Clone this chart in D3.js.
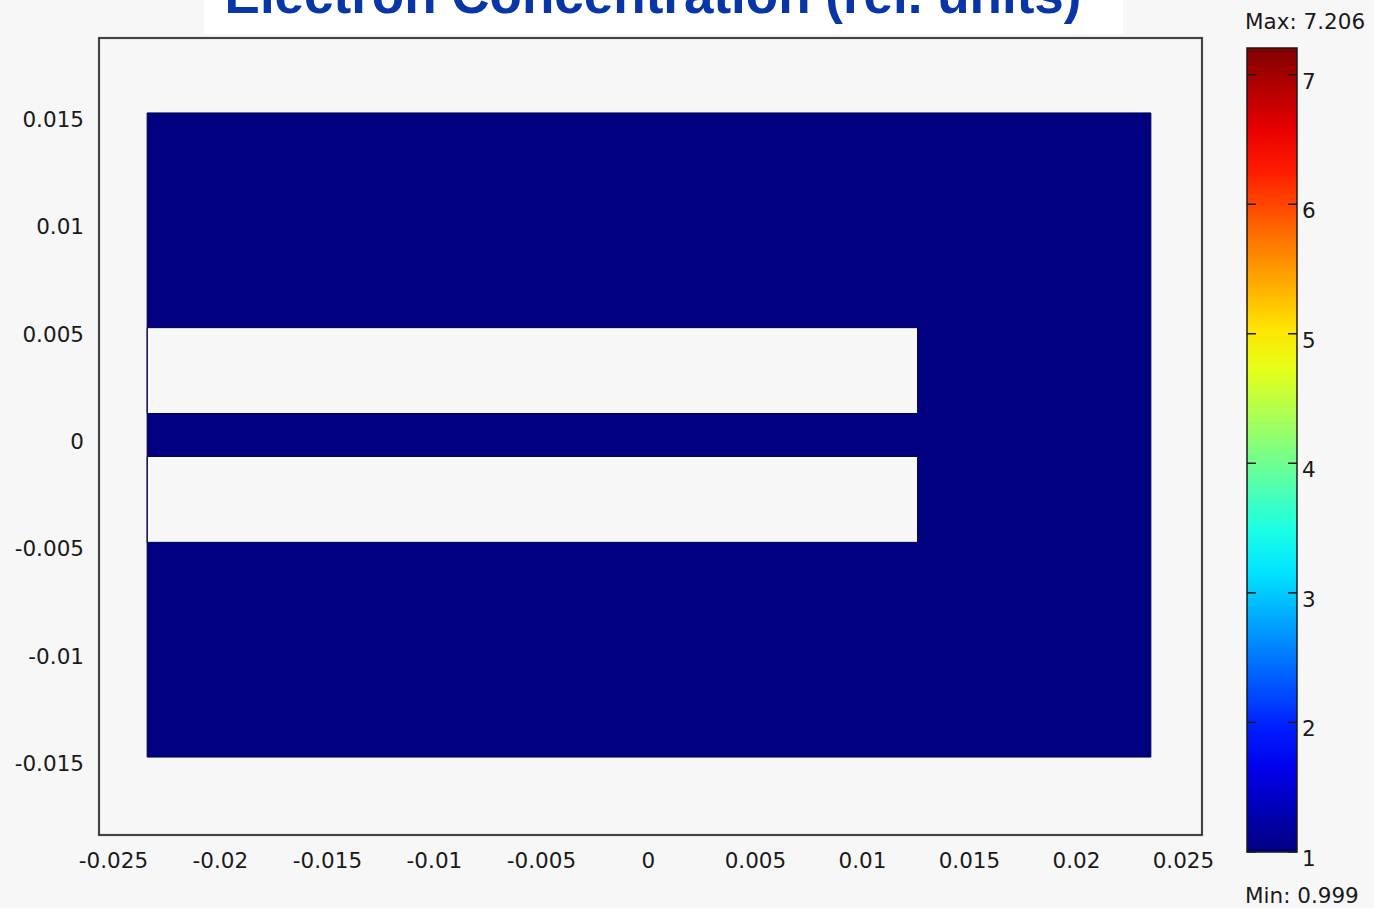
<!DOCTYPE html>
<html>
<head>
<meta charset="utf-8">
<script src="https://cdn.jsdelivr.net/npm/d3@7"></script>
<style>
  html, body { margin: 0; padding: 0; background: #f7f7f7; }
  svg { display: block; }
  text { font-family: "DejaVu Sans", Verdana, sans-serif; fill: #1a1a1a; }
</style>
</head>
<body>
<svg id="chart" width="1374" height="908"></svg>
<script>
// Axis ticks (metres) and colour bar ticks (relative units)
const xTicks = [-0.025, -0.02, -0.015, -0.01, -0.005, 0, 0.005, 0.01, 0.015, 0.02, 0.025];
const yTicks = [-0.015, -0.01, -0.005, 0, 0.005, 0.01, 0.015];
const xTickLabels = ["-0.025", "-0.02", "-0.015", "-0.01", "-0.005", "0", "0.005", "0.01", "0.015", "0.02", "0.025"];
const yTickLabels = ["-0.015", "-0.01", "-0.005", "0", "0.005", "0.01", "0.015"];
const cbTicks = [1, 2, 3, 4, 5, 6, 7];

// Plot window extents
const xExtent = [-0.02565, 0.02589];
const yExtent = [-0.01863, 0.01849];

// Computational domain: outer block with two slots cut from the left edge
const blockX = [-0.0234, 0.0235];
const blockY = [-0.015, 0.015];
const slots = [
  { x0: -0.0234, x1: 0.0126, y0: 0.001, y1: 0.005 },
  { x0: -0.0234, x1: 0.0126, y0: -0.005, y1: -0.001 }
];

// Electron concentration on the domain (uniform value) and colour range
const fieldValue = 1.0;
const fieldMin = 0.999;
const fieldMax = 7.206;

const title = "Electron Concentration (rel. units)";

// Jet colour map
const jetStops = [
  [0.0, "#000080"], [0.125, "#0000ff"], [0.375, "#00ffff"],
  [0.625, "#ffff00"], [0.875, "#ff0000"], [1.0, "#800000"]
];
const jet = d3.scaleLinear()
  .domain(jetStops.map(d => d[0]))
  .range(jetStops.map(d => d[1]))
  .interpolate(d3.interpolateRgb);
const colorOf = v => jet((v - fieldMin) / (fieldMax - fieldMin));

const svg = d3.select("#chart");
const labelFont = "21.5px";

// Title banner
svg.append("rect").attr("x", 204).attr("y", -2).attr("width", 919).attr("height", 36).attr("fill", "#ffffff");
svg.append("text")
  .attr("x", 653).attr("y", 13)
  .attr("text-anchor", "middle")
  .style("font-family", "'Liberation Sans', Arial, sans-serif")
  .style("font-weight", "bold")
  .style("font-size", "53px")
  .style("fill", "#0836a6")
  .text(title);

// Scales
const x = d3.scaleLinear().domain(xExtent).range([99, 1202]);
const y = d3.scaleLinear().domain(yExtent).range([835, 38]);

// Domain with slots as holes
const rectPath = (x0, x1, y0, y1) =>
  `M${x(x0)},${y(y1)}H${x(x1)}V${y(y0)}H${x(x0)}Z`;
let d = rectPath(blockX[0], blockX[1], blockY[0], blockY[1]);
slots.forEach(s => { d += rectPath(s.x0, s.x1, s.y0, s.y1); });
svg.append("path")
  .attr("d", d)
  .attr("fill-rule", "evenodd")
  .attr("fill", colorOf(fieldValue))
  .attr("stroke", "#00004a")
  .attr("stroke-width", 1);

// Frame
svg.append("rect")
  .attr("x", x(xExtent[0])).attr("y", y(yExtent[1]))
  .attr("width", x(xExtent[1]) - x(xExtent[0]))
  .attr("height", y(yExtent[0]) - y(yExtent[1]))
  .attr("fill", "none").attr("stroke", "#9a9a9a").attr("stroke-width", 3).attr("opacity", 0.35);
svg.append("rect")
  .attr("x", x(xExtent[0])).attr("y", y(yExtent[1]))
  .attr("width", x(xExtent[1]) - x(xExtent[0]))
  .attr("height", y(yExtent[0]) - y(yExtent[1]))
  .attr("fill", "none").attr("stroke", "#1e1e1e").attr("stroke-width", 1.6);

// Tick labels (label sits just below each tick position)
const xAxis = d3.axisBottom(x).tickValues(xTicks).tickSize(0)
  .tickFormat((v, i) => xTickLabels[i]);
const gx = svg.append("g").attr("transform", `translate(0,${y(yExtent[0])})`).call(xAxis);
gx.select(".domain").remove();
gx.selectAll("text").attr("y", 33).attr("dy", 0)
  .style("font-size", labelFont).style("font-family", "'DejaVu Sans', Verdana, sans-serif").attr("fill", "#1a1a1a");

const yAxis = d3.axisLeft(y).tickValues(yTicks).tickSize(0)
  .tickFormat((v, i) => yTickLabels[i]);
const gy = svg.append("g").attr("transform", `translate(84,0)`).call(yAxis);
gy.select(".domain").remove();
gy.selectAll("text").attr("x", 0).attr("dy", 13.5)
  .style("font-size", labelFont).style("font-family", "'DejaVu Sans', Verdana, sans-serif").attr("fill", "#1a1a1a");

// Colour bar
const cb = d3.scaleLinear().domain([fieldMin, fieldMax]).range([852, 48]);
const cbX = 1247, cbW = 50;
const defs = svg.append("defs");
const grad = defs.append("linearGradient").attr("id", "jetGrad")
  .attr("x1", 0).attr("y1", 1).attr("x2", 0).attr("y2", 0);
d3.range(0, 1.0001, 0.05).forEach(t => {
  grad.append("stop").attr("offset", t).attr("stop-color", jet(t));
});
svg.append("rect")
  .attr("x", cbX).attr("y", cb(fieldMax))
  .attr("width", cbW).attr("height", cb(fieldMin) - cb(fieldMax))
  .attr("fill", "url(#jetGrad)")
  .attr("stroke", "#1a1a1a").attr("stroke-width", 1.5);

const cbG = svg.append("g");
cbTicks.forEach(v => {
  cbG.append("line").attr("x1", cbX).attr("x2", cbX + 9)
    .attr("y1", cb(v)).attr("y2", cb(v)).attr("stroke", "#1a1a1a").attr("stroke-width", 1.5);
  cbG.append("line").attr("x1", cbX + cbW - 9).attr("x2", cbX + cbW)
    .attr("y1", cb(v)).attr("y2", cb(v)).attr("stroke", "#1a1a1a").attr("stroke-width", 1.5);
  cbG.append("text").attr("x", cbX + cbW + 5).attr("y", cb(v) + 14)
    .style("font-size", labelFont).text(v);
});

svg.append("text").attr("x", 1245).attr("y", 29).style("font-size", labelFont)
  .text("Max: " + fieldMax.toFixed(3));
svg.append("text").attr("x", 1245).attr("y", 903).style("font-size", labelFont)
  .text("Min: " + fieldMin.toFixed(3));
</script>
</body>
</html>
